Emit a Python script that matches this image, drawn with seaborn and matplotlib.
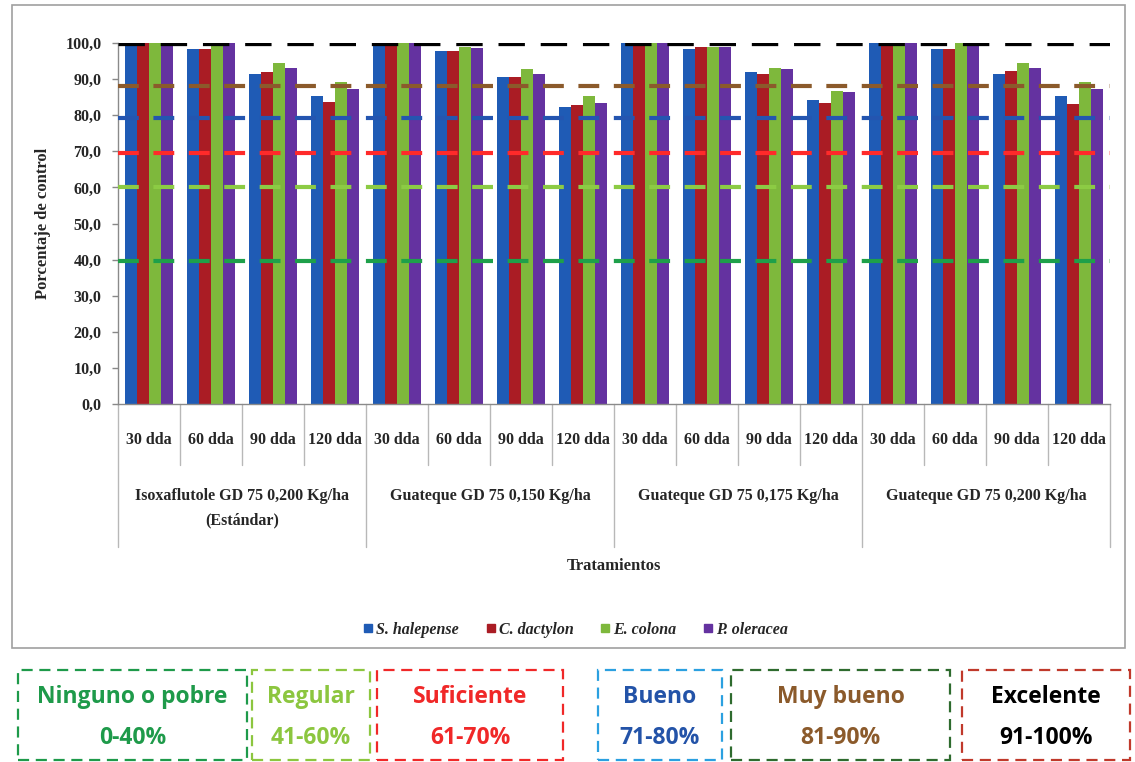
import numpy as np
import pandas as pd
import matplotlib
matplotlib.use("Agg")
import matplotlib.pyplot as plt
from matplotlib.patches import Rectangle
from matplotlib.lines import Line2D
import seaborn as sns

# Data
treatments = ["Isoxaflutole GD 75 0,200 Kg/ha\n(Estándar)",
              "Guateque GD 75 0,150 Kg/ha",
              "Guateque GD 75 0,175 Kg/ha",
              "Guateque GD 75 0,200 Kg/ha"]
times = ["30 dda", "60 dda", "90 dda", "120 dda"]
species = ["S. halepense", "C. dactylon", "E. colona", "P. oleracea"]
s_halepense = [100, 98.3, 91.3, 85.3, 100, 97.9, 90.5, 82.4, 100, 98.3, 92.0, 84.2, 100, 98.3, 91.3, 85.3]
c_dactylon = [100, 98.3, 92.0, 83.7, 100, 97.9, 90.5, 82.9, 100, 98.8, 91.3, 83.3, 100, 98.3, 92.3, 83.1]
e_colona = [100, 100, 94.5, 89.1, 100, 98.8, 92.8, 85.3, 100, 98.8, 93.2, 86.8, 100, 99.9, 94.5, 89.1]
p_oleracea = [100, 99.9, 93.2, 87.3, 100, 98.7, 91.4, 83.3, 100, 98.8, 92.9, 86.3, 100, 99.9, 93.2, 87.3]

# thresholds of the rating scale (dashed lines)
thresholds = [100, 88.2, 79.2, 69.4, 60.0, 39.6]
threshold_colors = ["black", "#8B5A2B", "#2455B0", "#FF2A2A", "#8CCB44", "#1EA04A"]

# rating scale boxes under the chart
scale_names = ["Ninguno o pobre", "Regular", "Suficiente", "Bueno", "Muy bueno", "Excelente"]
scale_ranges = ["0-40%", "41-60%", "61-70%", "71-80%", "81-90%", "91-100%"]
scale_text_colors = ["#1E9A4A", "#8CC63F", "#F02828", "#2353A8", "#8B5A2B", "black"]
scale_edge_colors = ["#1E9A4A", "#8CC63F", "#F02828", "#2BA0E0", "#2E6B2E", "#C0392B"]

bar_colors = ["#1F5BB5", "#AA1C24", "#7EB83C", "#6432A0"]

sns.set_style("white")
plt.rcParams["font.family"] = ["Liberation Serif", "DejaVu Serif"]

W, H = 1135, 762
fig = plt.figure(figsize=(W / 100, H / 100), dpi=100)
ax = fig.add_axes([118 / W, 1 - 404 / H, 992 / W, 361 / H])

n = len(treatments) * len(times)
values = [s_halepense, c_dactylon, e_colona, p_oleracea]
df = pd.DataFrame({
    "pos": np.tile(np.arange(n), len(species)),
    "Especie": np.repeat(species, n),
    "valor": np.concatenate(values),
})

sns.barplot(data=df, x="pos", y="valor", hue="Especie", palette=bar_colors,
            width=0.76, saturation=1, linewidth=0, ax=ax, legend=False, errorbar=None)

# dashed threshold lines
for val, col in zip(thresholds, threshold_colors):
    if col == "black":
        ax.axhline(val, color=col, lw=3.8, dashes=(5, 3), zorder=3)
    else:
        ax.axhline(val, color=col, lw=3.0, dashes=(5, 3.5), zorder=3)

ax.set_ylim(0, 100)
ax.set_xlim(-0.5, n - 0.5)
ax.set_yticks(np.arange(0, 101, 10))
ax.set_yticklabels(["{:.1f}".format(v).replace(".", ",") for v in np.arange(0, 101, 10)],
                   fontweight="bold", fontsize=11.5)
ax.tick_params(axis="y", length=4, width=1, color="#888888", pad=8, direction="out", left=True)
ax.set_xticks([])
ax.set_xlabel("")
ax.set_ylabel("Porcentaje de control", fontweight="bold", fontsize=12, labelpad=10)
for side in ["top", "right"]:
    ax.spines[side].set_visible(False)
for side in ["left", "bottom"]:
    ax.spines[side].set_color("#8a8a8a")
    ax.spines[side].set_linewidth(1)

# multi level category axis
tr = ax.get_xaxis_transform()
for i in range(n):
    ax.text(i, -0.10, times[i % 4], transform=tr, ha="center", va="center",
            fontweight="bold", fontsize=11.5, clip_on=False)
for b in range(n + 1):
    low = -0.396 if b % 4 == 0 else -0.169
    ax.plot([b - 0.5, b - 0.5], [0, low], transform=tr, color="#b8b8b8", lw=1, clip_on=False)
for g, name in enumerate(treatments):
    ax.text(g * 4 + 1.5, -0.232, name, transform=tr, ha="center", va="top",
            fontweight="bold", fontsize=11.5, linespacing=1.75, clip_on=False)
ax.text(0.5, -0.449, "Tratamientos", transform=ax.transAxes, ha="center", va="center",
        fontweight="bold", fontsize=12)

# legend
handles = [Line2D([], [], marker="s", ls="", markersize=6, color=c) for c in bar_colors]
fig.legend(handles, species, loc="center", bbox_to_anchor=(575 / W, 1 - 630 / H), ncol=4,
           frameon=False, handletextpad=0.1, columnspacing=1.6, handlelength=0.8,
           prop={"family": "Liberation Serif", "style": "italic", "weight": "bold", "size": 11.5})

# chart frame
fig.patches.append(Rectangle((12 / W, 1 - 648 / H), 1113 / W, 643 / H, transform=fig.transFigure,
                             fill=False, edgecolor="#a0a0a0", lw=1.2))

# rating scale boxes
boxes = [(18, 247), (252, 370), (377, 563), (598, 722), (731, 950), (962, 1130)]
for (x0, x1), nm, rg, tc, ec in zip(boxes, scale_names, scale_ranges, scale_text_colors, scale_edge_colors):
    fig.patches.append(Rectangle((x0 / W, 1 - 760 / H), (x1 - x0) / W, 90 / H,
                                 transform=fig.transFigure, fill=False, edgecolor=ec,
                                 lw=1.6, ls=(0, (5, 3))))
    xc = (x0 + x1) / 2 / W
    fig.text(xc, 1 - 697 / H, nm, ha="center", va="center", color=tc, fontsize=16.5,
             fontweight="bold", family="Open Sans")
    fig.text(xc, 1 - 738 / H, rg, ha="center", va="center", color=tc, fontsize=16.5,
             fontweight="bold", family="Open Sans")

fig.savefig("out.png", dpi=100)
